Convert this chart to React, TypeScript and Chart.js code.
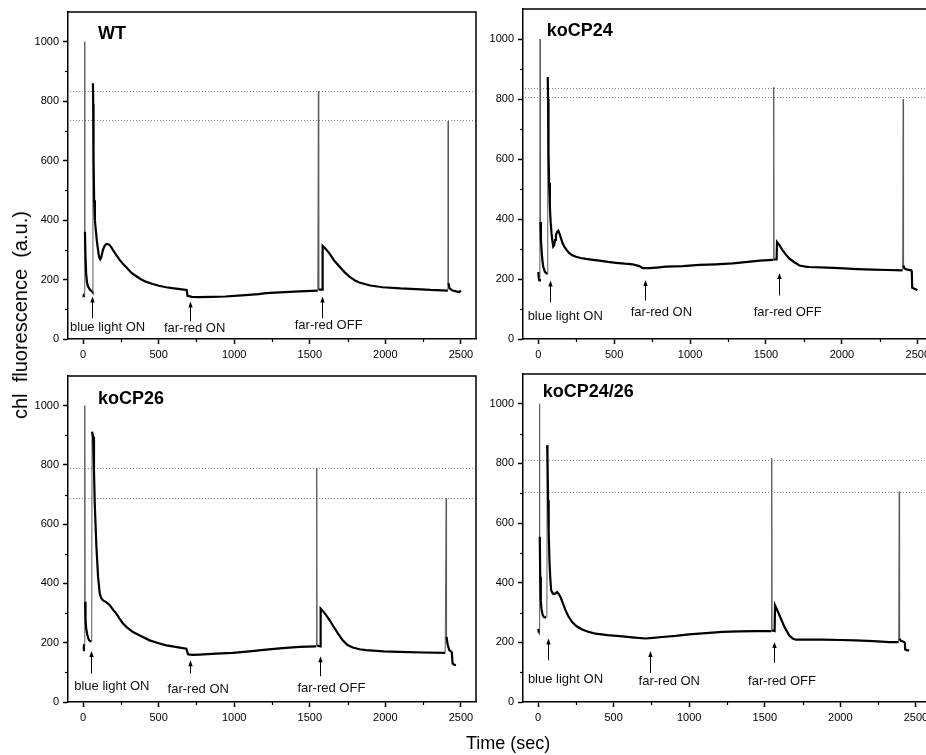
import React, { useEffect, useRef } from "react";
import { Chart, registerables } from "chart.js";

Chart.register(...registerables);

const FONT = "'Liberation Sans', Arial, Helvetica, sans-serif";

// ---- axes ----
const xMajorTicks = [0, 500, 1000, 1500, 2000, 2500];
const xMinorTicks = [250, 750, 1250, 1750, 2250];
const yMajorTicks = [0, 200, 400, 600, 800, 1000];
const yMinorTicks = [100, 300, 500, 700, 900];
const xRange = [-100, 2600];
const yRange = [0, 1100];
const xAxisTitle = "Time (sec)";
const yAxisTitle = "chl  fluorescence  (a.u.)";
const eventLabels = ["blue light ON", "far-red ON", "far-red OFF"];

// ---- WT ----
const wtTime = [0, 4, 8, 10, 12, 15, 20, 26, 33, 45, 59, 62, 65, 67, 69, 73, 78, 84, 91, 99, 106, 113, 120, 131, 142, 154, 171, 185, 198, 220, 242, 265, 286, 320, 350, 380, 414, 460, 502, 550, 590, 640, 685, 691, 720, 765, 850, 941, 1050, 1161, 1211, 1300, 1432, 1553, 1557, 1559, 1582, 1585, 1600, 1630, 1660, 1696, 1730, 1762, 1800, 1828, 1900, 1982, 2100, 2203, 2300, 2414, 2416, 2418, 2425, 2445, 2470, 2490, 2500];
const wtSignal = [150, 148, 150, 1000, 361, 290, 220, 190, 176, 166, 160, 158, 860, 790, 612, 467, 400, 366, 330, 299, 275, 268, 275, 299, 313, 320, 318, 310, 299, 282, 266, 252, 241, 222, 212, 202, 193, 185, 179, 174, 171, 168, 165, 145, 142, 141, 142, 143, 147, 151, 154, 157, 160, 163, 834, 166, 166, 313, 306, 288, 265, 244, 225, 210, 197, 190, 180, 174, 170, 168, 165, 163, 733, 188, 170, 163, 160, 158, 163];
const wtRefLines = [835, 737];
const wtArrowTime = [62, 705, 1581];
const wtArrowFrom = [70, 59, 70];
const wtArrowTo = [143, 126, 143];
const wtLabelTime = [162, 738, 1625];
const wtLabelLevel = [39, 37, 45];

// ---- koCP24 ----
const cp24Time = [0, 5, 8, 11, 13, 15, 18, 22, 27, 33, 44, 55, 60, 63, 65, 68, 72, 77, 82, 88, 94, 99, 105, 111, 117, 125, 133, 141, 150, 160, 172, 188, 205, 225, 249, 280, 315, 360, 403, 460, 512, 570, 622, 666, 688, 732, 780, 842, 952, 1061, 1170, 1281, 1380, 1460, 1545, 1550, 1551, 1553, 1570, 1573, 1590, 1610, 1630, 1654, 1690, 1720, 1760, 1786, 1900, 1984, 2100, 2204, 2300, 2400, 2404, 2406, 2412, 2430, 2456, 2460, 2463, 2475, 2490, 2496];
const cp24Signal = [223, 200, 195, 200, 1000, 390, 330, 300, 265, 241, 224, 219, 216, 873, 800, 619, 520, 441, 390, 352, 325, 308, 312, 330, 347, 357, 361, 350, 336, 320, 308, 296, 286, 279, 274, 270, 267, 264, 261, 257, 254, 251, 249, 243, 236, 236, 238, 241, 243, 247, 249, 252, 257, 261, 264, 264, 839, 265, 265, 323, 312, 295, 282, 268, 255, 245, 241, 240, 238, 236, 233, 231, 230, 229, 799, 245, 235, 231, 229, 228, 171, 168, 165, 162];
const cp24RefLines = [836, 807];
const cp24ArrowTime = [75, 703, 1588];
const cp24ArrowFrom = [123, 128, 145];
const cp24ArrowTo = [195, 197, 220];
const cp24LabelTime = [178, 811, 1643];
const cp24LabelLevel = [75, 87, 89];

// ---- koCP26 ----
const cp26Time = [0, 5, 9, 11, 13, 16, 20, 26, 33, 40, 55, 57, 59, 66, 72, 77, 88, 99, 110, 120, 132, 150, 176, 200, 220, 240, 264, 290, 330, 385, 440, 500, 551, 620, 683, 694, 720, 771, 880, 991, 1100, 1211, 1320, 1432, 1542, 1545, 1546, 1548, 1570, 1572, 1590, 1608, 1630, 1652, 1685, 1718, 1750, 1784, 1830, 1872, 1990, 2093, 2250, 2396, 2403, 2405, 2412, 2423, 2435, 2440, 2445, 2455, 2467];
const cp26Signal = [175, 191, 195, 1000, 338, 280, 250, 231, 216, 208, 203, 203, 912, 895, 780, 670, 524, 422, 366, 350, 343, 338, 327, 310, 298, 282, 265, 252, 236, 222, 208, 198, 191, 185, 180, 161, 159, 160, 163, 166, 171, 177, 182, 186, 188, 188, 788, 190, 188, 315, 305, 293, 277, 259, 232, 208, 192, 184, 178, 175, 171, 169, 167, 166, 687, 220, 195, 175, 170, 169, 130, 126, 124];
const cp26RefLines = [791, 687];
const cp26ArrowTime = [55, 705, 1568];
const cp26ArrowFrom = [96, 96, 87];
const cp26ArrowTo = [172, 141, 154];
const cp26LabelTime = [190, 762, 1643];
const cp26LabelLevel = [53, 43, 45];

// ---- koCP24/26 ----
const cp2426Time = [0, 4, 8, 9, 11, 14, 18, 22, 30, 38, 53, 58, 60, 62, 66, 70, 75, 80, 86, 97, 110, 126, 137, 148, 165, 181, 200, 225, 255, 292, 335, 380, 460, 557, 640, 711, 760, 822, 910, 998, 1110, 1219, 1330, 1440, 1539, 1545, 1546, 1548, 1565, 1568, 1585, 1606, 1630, 1661, 1685, 1705, 1800, 1882, 2000, 2102, 2220, 2323, 2386, 2390, 2392, 2400, 2422, 2427, 2429, 2440, 2456];
const cp2426Signal = [245, 240, 242, 1000, 554, 420, 340, 313, 292, 285, 283, 283, 861, 820, 677, 570, 475, 420, 375, 364, 362, 369, 362, 352, 330, 308, 288, 268, 254, 243, 235, 229, 224, 220, 216, 213, 215, 218, 222, 227, 231, 235, 237, 238, 238, 238, 817, 240, 238, 324, 305, 280, 252, 224, 213, 209, 209, 209, 208, 207, 204, 201, 201, 705, 212, 205, 201, 200, 176, 174, 173];
const cp2426RefLines = [811, 705];
const cp2426ArrowTime = [64, 740, 1561];
const cp2426ArrowFrom = [140, 97, 131];
const cp2426ArrowTo = [213, 171, 201];
const cp2426LabelTime = [181, 868, 1614];
const cp2426LabelLevel = [75, 70, 70];

type Panel = {
  title: string;
  titleAt: [number, number];
  time: number[];
  signal: number[];
  refLines: number[];
  arrowTime: number[];
  arrowFrom: number[];
  arrowTo: number[];
  labelTime: number[];
  labelLevel: number[];
  box: { left: number; top: number; width: number; height: number };
  yAxisWidth: number;
  pad: { top: number; right: number; bottom: number };
};

const panels: Panel[] = [
  {
    title: "WT", titleAt: [99, 1026], time: wtTime, signal: wtSignal, refLines: wtRefLines,
    arrowTime: wtArrowTime, arrowFrom: wtArrowFrom, arrowTo: wtArrowTo, labelTime: wtLabelTime, labelLevel: wtLabelLevel,
    box: { left: 0, top: 0, width: 480, height: 368 }, yAxisWidth: 68, pad: { top: 12, right: 4, bottom: 3 },
  },
  {
    title: "koCP24", titleAt: [57, 1026], time: cp24Time, signal: cp24Signal, refLines: cp24RefLines,
    arrowTime: cp24ArrowTime, arrowFrom: cp24ArrowFrom, arrowTo: cp24ArrowTo, labelTime: cp24LabelTime, labelLevel: cp24LabelLevel,
    box: { left: 480, top: 0, width: 460, height: 368 }, yAxisWidth: 43, pad: { top: 9, right: 7, bottom: 3 },
  },
  {
    title: "koCP26", titleAt: [99, 1023], time: cp26Time, signal: cp26Signal, refLines: cp26RefLines,
    arrowTime: cp26ArrowTime, arrowFrom: cp26ArrowFrom, arrowTo: cp26ArrowTo, labelTime: cp26LabelTime, labelLevel: cp26LabelLevel,
    box: { left: 0, top: 368, width: 480, height: 387 }, yAxisWidth: 68, pad: { top: 8, right: 4, bottom: 27 },
  },
  {
    title: "koCP24/26", titleAt: [31, 1040], time: cp2426Time, signal: cp2426Signal, refLines: cp2426RefLines,
    arrowTime: cp2426ArrowTime, arrowFrom: cp2426ArrowFrom, arrowTo: cp2426ArrowTo, labelTime: cp2426LabelTime, labelLevel: cp2426LabelLevel,
    box: { left: 480, top: 368, width: 460, height: 387 }, yAxisWidth: 43, pad: { top: 6, right: 9, bottom: 27 },
  },
];

function makeDeco(p: Panel) {
  return {
    id: "deco",
    beforeDatasetsDraw(chart: any) {
      const { ctx, chartArea: a, scales } = chart;
      const y = scales.y;
      ctx.save();
      ctx.strokeStyle = "#8a8a8a";
      ctx.lineWidth = 1;
      ctx.setLineDash([1, 2]);
      for (const v of p.refLines) {
        const py = Math.round(y.getPixelForValue(v)) + 0.5;
        ctx.beginPath();
        ctx.moveTo(a.left + 2, py);
        ctx.lineTo(a.right, py);
        ctx.stroke();
      }
      ctx.restore();
    },
    afterDraw(chart: any) {
      const { ctx, chartArea: a, scales } = chart;
      const x = scales.x;
      const y = scales.y;
      ctx.save();
      ctx.strokeStyle = "#000";
      ctx.lineWidth = 1.5;
      ctx.beginPath();
      ctx.moveTo(a.left, a.top);
      ctx.lineTo(a.right, a.top);
      ctx.lineTo(a.right, a.bottom);
      ctx.stroke();
      ctx.lineWidth = 1.2;
      for (const v of xMinorTicks) {
        const px = Math.round(x.getPixelForValue(v)) + 0.5;
        ctx.beginPath();
        ctx.moveTo(px, a.bottom);
        ctx.lineTo(px, a.bottom + 3);
        ctx.stroke();
      }
      for (const v of yMinorTicks) {
        const py = Math.round(y.getPixelForValue(v)) + 0.5;
        ctx.beginPath();
        ctx.moveTo(a.left, py);
        ctx.lineTo(a.left - 3, py);
        ctx.stroke();
      }
      ctx.lineWidth = 1;
      ctx.fillStyle = "#000";
      p.arrowTime.forEach((t, i) => {
        const px = Math.round(x.getPixelForValue(t)) + 0.5;
        const y0 = y.getPixelForValue(p.arrowFrom[i]);
        const y1 = y.getPixelForValue(p.arrowTo[i]);
        ctx.beginPath();
        ctx.moveTo(px, y0);
        ctx.lineTo(px, y1 + 4);
        ctx.stroke();
        ctx.beginPath();
        ctx.moveTo(px, y1);
        ctx.lineTo(px - 2.2, y1 + 6);
        ctx.lineTo(px + 2.2, y1 + 6);
        ctx.closePath();
        ctx.fill();
      });
      ctx.fillStyle = "#111";
      ctx.font = `13px ${FONT}`;
      ctx.textAlign = "center";
      ctx.textBaseline = "middle";
      p.labelTime.forEach((t, i) => {
        ctx.fillText(eventLabels[i], x.getPixelForValue(t), y.getPixelForValue(p.labelLevel[i]));
      });
      ctx.font = `bold 18px ${FONT}`;
      ctx.textAlign = "left";
      ctx.fillStyle = "#000";
      ctx.fillText(p.title, x.getPixelForValue(p.titleAt[0]), y.getPixelForValue(p.titleAt[1]));
      ctx.restore();
    },
  };
}

function PanelChart({ p }: { p: Panel }) {
  const ref = useRef<HTMLCanvasElement | null>(null);
  useEffect(() => {
    if (!ref.current) return;
    const steep = (c: any) => Math.abs(c.p1.parsed.y - c.p0.parsed.y) > 200;
    const chart = new Chart(ref.current, {
      type: "line",
      data: {
        datasets: [
          {
            data: p.time.map((t, i) => ({ x: t, y: p.signal[i] })),
            borderColor: "#000",
            borderWidth: 2.2,
            pointRadius: 0,
            tension: 0,
            segment: {
              borderColor: (c: any) => (steep(c) ? "#5a5a5a" : undefined),
              borderWidth: (c: any) => (steep(c) ? 1 : undefined),
            },
          },
        ],
      },
      options: {
        responsive: false,
        animation: false,
        devicePixelRatio: 1,
        events: [],
        layout: { padding: { left: 0, top: p.pad.top, right: p.pad.right, bottom: p.pad.bottom } },
        plugins: { legend: { display: false }, tooltip: { enabled: false }, title: { display: false } },
        scales: {
          x: {
            type: "linear",
            min: xRange[0],
            max: xRange[1],
            afterBuildTicks: (s: any) => {
              s.ticks = xMajorTicks.map((v) => ({ value: v }));
            },
            afterFit: (s: any) => {
              s.height = 26;
              s.paddingLeft = 0;
              s.paddingRight = 0;
              s.paddingTop = 0;
              s.paddingBottom = 0;
            },
            ticks: {
              callback: (v: any) => String(v),
              font: { family: FONT, size: 11 },
              color: "#000",
              padding: 4,
              maxRotation: 0,
              autoSkip: false,
            },
            grid: { display: true, drawOnChartArea: false, drawTicks: true, tickLength: 5, tickWidth: 1.5, tickColor: "#000" },
            border: { display: true, color: "#000", width: 1.5 },
          },
          y: {
            type: "linear",
            min: yRange[0],
            max: yRange[1],
            afterBuildTicks: (s: any) => {
              s.ticks = yMajorTicks.map((v) => ({ value: v }));
            },
            afterFit: (s: any) => {
              s.width = p.yAxisWidth;
              s.paddingLeft = 0;
              s.paddingRight = 0;
              s.paddingTop = 0;
              s.paddingBottom = 0;
            },
            ticks: {
              callback: (v: any) => String(v),
              font: { family: FONT, size: 11 },
              color: "#000",
              padding: 4,
              autoSkip: false,
            },
            grid: { display: true, drawOnChartArea: false, drawTicks: true, tickLength: 5, tickWidth: 1.5, tickColor: "#000" },
            border: { display: true, color: "#000", width: 1.5 },
          },
        },
      },
      plugins: [makeDeco(p)],
    } as any);
    return () => chart.destroy();
  }, [p]);
  return (
    <canvas
      ref={ref}
      width={p.box.width}
      height={p.box.height}
      style={{ position: "absolute", left: p.box.left, top: p.box.top, width: p.box.width, height: p.box.height }}
    />
  );
}

export default function App() {
  return (
    <div
      style={{
        position: "fixed",
        left: 0,
        top: 0,
        width: 926,
        height: 755,
        overflow: "hidden",
        background: "#fff",
        fontFamily: FONT,
      }}
    >
      {panels.map((p) => (
        <PanelChart key={p.title} p={p} />
      ))}
      <div
        style={{
          position: "absolute",
          left: 20,
          top: 315,
          transform: "translate(-50%, -50%) rotate(-90deg)",
          whiteSpace: "pre",
          fontSize: 20,
          lineHeight: 1,
          color: "#000",
        }}
      >
        {yAxisTitle}
      </div>
      <div
        style={{
          position: "absolute",
          left: 466,
          top: 743,
          transform: "translateY(-50%)",
          whiteSpace: "pre",
          fontSize: 18,
          lineHeight: 1,
          color: "#000",
        }}
      >
        {xAxisTitle}
      </div>
    </div>
  );
}
